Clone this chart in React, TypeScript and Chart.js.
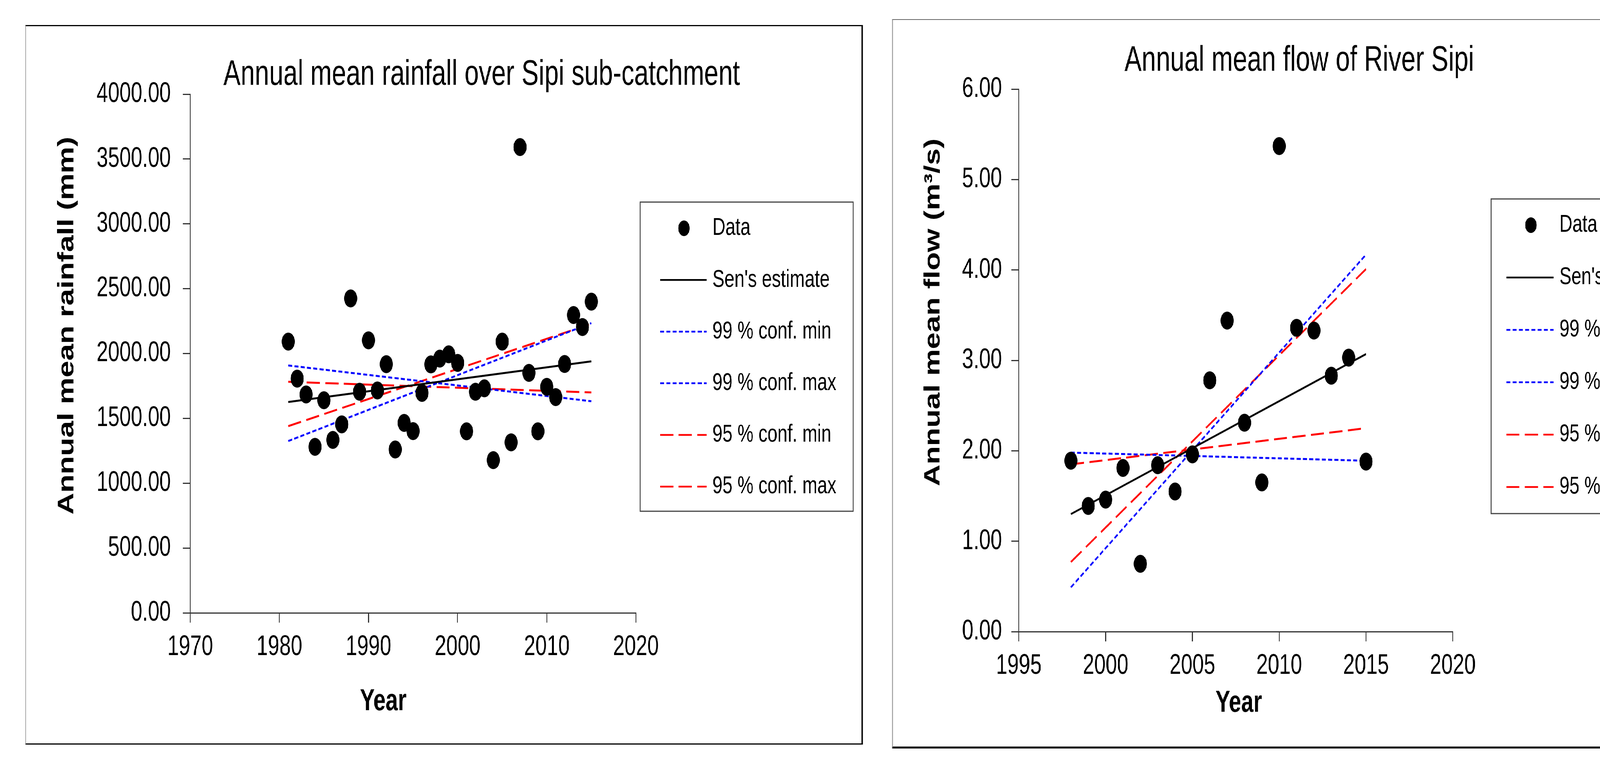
import React, { useEffect, useRef } from 'react';
import { Chart, registerables } from 'chart.js';

Chart.register(...registerables);

// horizontal squash of the reference picture
const K = 0.73;
const FONT = "'Liberation Sans', Arial, Helvetica, sans-serif";

// ---------------- data: rainfall ----------------
const rainYears = [1981, 1982, 1983, 1984, 1985, 1986, 1987, 1988, 1989, 1990, 1991, 1992, 1993, 1994, 1995, 1996, 1997, 1998, 1999, 2000, 2001, 2002, 2003, 2004, 2005, 2006, 2007, 2008, 2009, 2010, 2011, 2012, 2013, 2014, 2015];
const rainValues = [2092, 1806, 1684, 1280, 1640, 1334, 1454, 2425, 1705, 2102, 1715, 1918, 1260, 1465, 1402, 1696, 1916, 1961, 1994, 1928, 1400, 1705, 1732, 1178, 2092, 1315, 3592, 1851, 1400, 1743, 1664, 1919, 2297, 2204, 2400];
const rainLineYears = [1981, 2015];
const rainSen = [1626, 1940];
const rain99Min = [1908, 1632];
const rain99Max = [1325, 2235];
const rain95Min = [1782, 1700];
const rain95Max = [1440, 2230];
const rainXTicks = [1970, 2020, 10];
const rainYTicks = [0, 4000, 500];

// ---------------- data: flow ----------------
const flowYears = [1998, 1999, 2000, 2001, 2002, 2003, 2004, 2005, 2006, 2007, 2008, 2009, 2010, 2011, 2012, 2013, 2014, 2015];
const flowValues = [1.89, 1.39, 1.46, 1.81, 0.75, 1.84, 1.55, 1.96, 2.78, 3.44, 2.31, 1.65, 5.37, 3.36, 3.33, 2.83, 3.03, 1.88];
const flowLineYears = [1998, 2015];
const flowSen = [1.3, 3.07];
const flow99Min = [1.98, 1.89];
const flow99Max = [0.49, 4.17];
const flow95Min = [1.85, 2.25];
const flow95Max = [0.77, 4.01];
const flowXTicks = [1995, 2020, 5];
const flowYTicks = [0, 6, 1];

const seriesLabels = ['Data', "Sen's estimate", '99 % conf. min', '99 % conf. max', '95 % conf. min', '95 % conf. max'];

type Legend = { l: number; t: number; r: number; b: number; first: number; gap: number; markX: number; lineX0: number; lineX1: number; textX: number };
type Spec = {
  frameX: number; frameY: number; frameW: number; frameH: number;
  areaL: number; areaR: number; areaT: number; areaB: number;
  yTickPad: number;
  title: string; titleX: number; titleY: number;
  yTitle: string; yTitleX: number; yTitleY: number;
  xTitle: string; xTitleX: number; xTitleY: number;
  legend: Legend;
  xTicks: number[]; yTicks: number[];
  years: number[]; values: number[];
  lineYears: number[]; lines: number[][];
  borders: React.CSSProperties;
};

const LEFT: Spec = {
  frameX: 65, frameY: 64, frameW: 2144, frameH: 1841,
  areaL: 487, areaR: 1628, areaT: 241, areaB: 1568,
  yTickPad: 42,
  title: 'Annual mean rainfall over Sipi sub-catchment', titleX: 1233, titleY: 192,
  yTitle: 'Annual mean rainfall (mm)', yTitleX: 172, yTitleY: 833,
  xTitle: 'Year', xTitleX: 981, xTitleY: 1796,
  legend: { l: 1639, t: 517, r: 2184, b: 1308, first: 584, gap: 132.2, markX: 1751, lineX0: 1690, lineX1: 1809, textX: 1824 },
  xTicks: rainXTicks, yTicks: rainYTicks,
  years: rainYears, values: rainValues,
  lineYears: rainLineYears, lines: [rainSen, rain99Min, rain99Max, rain95Min, rain95Max],
  borders: {
    borderTop: '3px solid #000',
    borderLeft: `${2 / K}px solid #7f7f7f`,
    borderRight: `${4 / K}px solid #000`,
    borderBottom: '3px solid #000',
  },
};

const RIGHT: Spec = {
  frameX: 2284, frameY: 49, frameW: 2087, frameH: 1866,
  areaL: 2608, areaR: 3719, areaT: 228, areaB: 1616,
  yTickPad: 33,
  title: 'Annual mean flow of River Sipi', titleX: 3326, titleY: 156,
  yTitle: 'Annual mean flow (m³/s)', yTitleX: 2390, yTitleY: 799,
  xTitle: 'Year', xTitleX: 3171, xTitleY: 1800,
  legend: { l: 3817, t: 509, r: 4346, b: 1314, first: 576, gap: 134, markX: 3919, lineX0: 3856, lineX1: 3977, textX: 3992 },
  xTicks: flowXTicks, yTicks: flowYTicks,
  years: flowYears, values: flowValues,
  lineYears: flowLineYears, lines: [flowSen, flow99Min, flow99Max, flow95Min, flow95Max],
  borders: {
    borderTop: '2px solid #666',
    borderLeft: `${2 / K}px solid #777`,
    borderRight: `${2 / K}px solid #666`,
    borderBottom: '5px solid #000',
  },
};

const lineStyles = [
  { color: '#000000', dash: [] as number[] },
  { color: '#0000ff', dash: [14, 8] },
  { color: '#0000ff', dash: [14, 8] },
  { color: '#ff0000', dash: [46, 19] },
  { color: '#ff0000', dash: [46, 19] },
];

function buildConfig(s: Spec): any {
  const cw = s.frameW / K;
  const ch = s.frameH;
  const rx = (x: number) => (x - s.frameX) / K;
  const ry = (y: number) => y - s.frameY;
  const aL = rx(s.areaL);
  const aR = rx(s.areaR);
  const aT = ry(s.areaT);
  const aB = ry(s.areaB);
  const xAxisH = 240;

  const pts = (xs: number[], ys: number[]) => xs.map((x, i) => ({ x, y: ys[i] }));

  const datasets: any[] = [
    {
      label: seriesLabels[0],
      data: pts(s.years, s.values),
      showLine: false,
      pointStyle: 'circle',
      pointRadius: 23,
      pointHoverRadius: 23,
      pointBorderWidth: 0,
      pointBackgroundColor: '#000',
      backgroundColor: '#000',
      borderColor: '#000',
    },
    ...s.lines.map((vals, i) => ({
      label: seriesLabels[i + 1],
      data: pts(s.lineYears, vals),
      showLine: true,
      pointRadius: 0,
      pointHoverRadius: 0,
      borderColor: lineStyles[i].color,
      backgroundColor: lineStyles[i].color,
      borderDash: lineStyles[i].dash,
      borderWidth: 5,
      fill: false,
      tension: 0,
    })),
  ];

  const L = s.legend;
  const decor = {
    id: 'decor',
    afterDraw(chart: any) {
      const ctx: CanvasRenderingContext2D = chart.ctx;
      ctx.save();
      ctx.fillStyle = '#000';
      ctx.textAlign = 'center';
      ctx.textBaseline = 'middle';
      // chart title
      ctx.font = `90px ${FONT}`;
      ctx.fillText(s.title, rx(s.titleX), ry(s.titleY));
      // axis titles
      ctx.font = `bold 77px ${FONT}`;
      ctx.fillText(s.xTitle, rx(s.xTitleX), ry(s.xTitleY));
      ctx.save();
      ctx.translate(rx(s.yTitleX), ry(s.yTitleY));
      ctx.rotate(-Math.PI / 2);
      ctx.fillText(s.yTitle, 0, 0);
      ctx.restore();

      // legend box
      ctx.strokeStyle = '#444';
      ctx.lineWidth = 3;
      ctx.setLineDash([]);
      ctx.strokeRect(rx(L.l), ry(L.t), rx(L.r) - rx(L.l), ry(L.b) - ry(L.t));
      ctx.font = `63px ${FONT}`;
      ctx.textAlign = 'left';
      chart.data.datasets.forEach((ds: any, i: number) => {
        const cy = ry(L.first + i * L.gap);
        if (!ds.showLine) {
          ctx.fillStyle = ds.pointBackgroundColor;
          ctx.beginPath();
          ctx.arc(rx(L.markX), cy, 20, 0, Math.PI * 2);
          ctx.fill();
        } else {
          ctx.strokeStyle = ds.borderColor;
          ctx.lineWidth = 4.5;
          ctx.setLineDash(ds.borderDash || []);
          ctx.beginPath();
          ctx.moveTo(rx(L.lineX0), cy);
          ctx.lineTo(rx(L.lineX1), cy);
          ctx.stroke();
          ctx.setLineDash([]);
        }
        ctx.fillStyle = '#000';
        ctx.fillText(ds.label, rx(L.textX), cy);
      });
      ctx.restore();
    },
  };

  const tickFont = { family: FONT, size: 72 };
  return {
    type: 'scatter',
    data: { datasets },
    plugins: [decor],
    options: {
      responsive: false,
      animation: false,
      events: [],
      layout: { padding: { left: 0, top: aT, right: cw - aR, bottom: ch - aB - xAxisH } },
      plugins: {
        legend: { display: false },
        title: { display: false },
        tooltip: { enabled: false },
      },
      scales: {
        x: {
          type: 'linear',
          min: s.xTicks[0],
          max: s.xTicks[1],
          ticks: {
            stepSize: s.xTicks[2],
            autoSkip: false,
            maxRotation: 0,
            padding: 20,
            color: '#000',
            font: tickFont,
            callback: (v: any) => String(v),
          },
          grid: { drawOnChartArea: false, drawTicks: true, tickLength: 25, color: '#333', lineWidth: 3 },
          border: { display: true, color: '#333', width: 3 },
          afterFit: (sc: any) => { sc.height = xAxisH; },
        },
        y: {
          type: 'linear',
          min: s.yTicks[0],
          max: s.yTicks[1],
          ticks: {
            stepSize: s.yTicks[2],
            autoSkip: false,
            padding: s.yTickPad,
            color: '#000',
            font: tickFont,
            callback: (v: any) => Number(v).toFixed(2),
          },
          grid: { drawOnChartArea: false, drawTicks: true, tickLength: 26, color: '#333', lineWidth: 3 },
          border: { display: true, color: '#333', width: 3 },
          afterFit: (sc: any) => { sc.width = aL; },
        },
      },
    },
  };
}

function Panel({ spec }: { spec: Spec }) {
  const ref = useRef<HTMLCanvasElement>(null);
  useEffect(() => {
    if (!ref.current) return;
    const chart = new Chart(ref.current, buildConfig(spec));
    return () => chart.destroy();
  }, [spec]);
  const W = Math.round(spec.frameW / K);
  const H = spec.frameH;
  return (
    <>
      <canvas
        ref={ref}
        width={W}
        height={H}
        style={{ position: 'absolute', left: spec.frameX / K, top: spec.frameY, display: 'block' }}
      />
      <div
        style={{
          position: 'absolute',
          left: spec.frameX / K,
          top: spec.frameY,
          width: W,
          height: H,
          boxSizing: 'border-box',
          pointerEvents: 'none',
          ...spec.borders,
        }}
      />
    </>
  );
}

export default function App() {
  return (
    <div style={{ position: 'fixed', left: 0, top: 0, width: 4408, height: 1947, overflow: 'hidden', background: '#fff' }}>
      <div
        style={{
          position: 'absolute',
          left: 0,
          top: 0,
          width: 4408 / K,
          height: 1947,
          transform: `scaleX(${K})`,
          transformOrigin: '0 0',
        }}
      >
        <Panel spec={LEFT} />
        <Panel spec={RIGHT} />
      </div>
    </div>
  );
}
